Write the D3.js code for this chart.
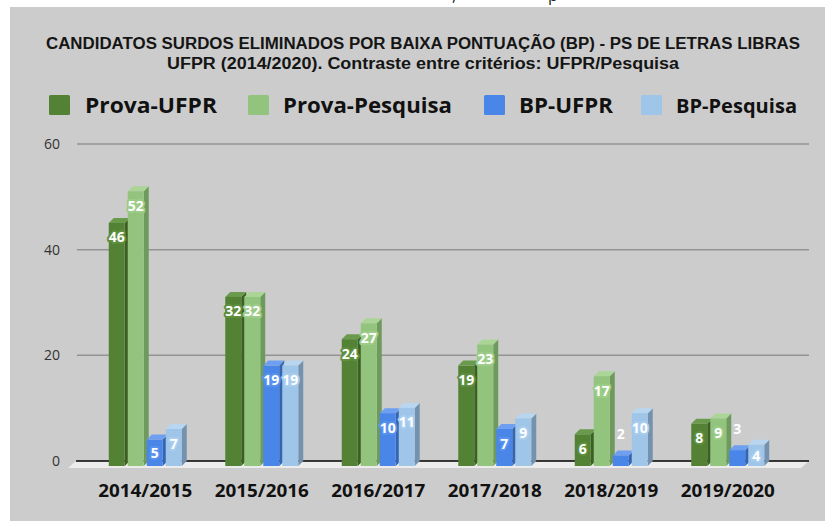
<!DOCTYPE html>
<html>
<head>
<meta charset="utf-8">
<script src="https://cdn.jsdelivr.net/npm/d3@7"></script>
<style>
  html, body { margin: 0; padding: 0; background: #ffffff; }
  svg { display: block; }
</style>
</head>
<body>
<svg id="chart" width="825" height="523"></svg>
<script>
// ---- data ----
const categories = ["2014/2015", "2015/2016", "2016/2017", "2017/2018", "2018/2019", "2019/2020"];
const seriesNames = ["Prova-UFPR", "Prova-Pesquisa", "BP-UFPR", "BP-Pesquisa"];
const provaUFPR     = [46, 32, 24, 19, 6, 8];
const provaPesquisa = [52, 32, 27, 23, 17, 9];
const bpUFPR        = [5, 19, 10, 7, 2, 3];
const bpPesquisa    = [7, 19, 11, 9, 10, 4];
const yTicks = [0, 20, 40, 60];
const titleLines = [
  "CANDIDATOS SURDOS ELIMINADOS POR BAIXA PONTUAÇÃO (BP) - PS DE LETRAS LIBRAS",
  "UFPR (2014/2020). Contraste entre critérios: UFPR/Pesquisa"
];

const seriesValues = [provaUFPR, provaPesquisa, bpUFPR, bpPesquisa];
const colors = {
  front: ["#548235", "#93c47d", "#4a86e8", "#9fc5e8"],
  side:  ["#3c5f25", "#6f9a5e", "#3464b2", "#7492ae"],
  top:   ["#6a9a4b", "#aad597", "#6e9ff0", "#b9d6f0"],
  halo:  ["#5e8f3e", "#9ccc87", "#5892ee", "#a9cdee"]
};

const svg = d3.select("#chart");
const W = 825, H = 523;

// background
svg.append("rect").attr("x", 0).attr("y", 0).attr("width", W).attr("height", H).attr("fill", "#ffffff");
// cut-off text from the page above (descenders only visible)
svg.append("text").attr("x", 452).attr("y", 1).attr("font-family", "Open Sans").attr("font-size", 16).attr("fill", "#222").text(",");
svg.append("text").attr("x", 548).attr("y", 1).attr("font-family", "Open Sans").attr("font-size", 16).attr("fill", "#222").text("p");
svg.append("rect").attr("x", 10).attr("y", 7).attr("width", W - 10).attr("height", 514).attr("fill", "#cccccc");

// title
const titleG = svg.append("g").attr("font-family", "Liberation Sans").attr("font-weight", 700).attr("fill", "#151515");
titleG.append("text").attr("x", 46).attr("y", 49).attr("font-size", 16)
  .attr("textLength", 754).attr("lengthAdjust", "spacingAndGlyphs").text(titleLines[0]);
titleG.append("text").attr("x", 167).attr("y", 69).attr("font-size", 16)
  .attr("textLength", 512).attr("lengthAdjust", "spacingAndGlyphs").text(titleLines[1]);

// legend
const legendLayout = [
  { sx: 49, tx: 85, tw: 132, fs: 22 },
  { sx: 248, tx: 283, tw: 169, fs: 22 },
  { sx: 484, tx: 519, tw: 94, fs: 22 },
  { sx: 641, tx: 676, tw: 121, fs: 19 }
];
const legend = svg.append("g");
seriesNames.forEach((name, i) => {
  const L = legendLayout[i];
  legend.append("rect").attr("x", L.sx).attr("y", 95).attr("width", 21).attr("height", 20)
    .attr("rx", 1.5).attr("fill", colors.front[i]);
  legend.append("text").attr("x", L.tx).attr("y", 113)
    .attr("font-family", "Open Sans").attr("font-weight", 700).attr("font-size", L.fs)
    .attr("fill", "#111").attr("textLength", L.tw).attr("lengthAdjust", "spacingAndGlyphs").text(name);
});

// scales
const depth = 5;
const x = d3.scaleBand().domain(categories).range([87, 786]);
const xInner = d3.scaleBand().domain(seriesNames).range([-36.5, 36.5]).paddingInner(3 / 19);
const y = d3.scaleLinear().domain([0, 60]).range([466, 149]);

// gridlines (back plane)
const grid = svg.append("g");
yTicks.filter(t => t > 0).forEach(t => {
  grid.append("line").attr("x1", 77).attr("x2", 809)
    .attr("y1", y(t) - depth).attr("y2", y(t) - depth)
    .attr("stroke", "#939393").attr("stroke-width", 1.5);
});

// y axis labels
const yAxis = d3.axisLeft(y).tickValues(yTicks).tickSize(0).tickPadding(0).tickFormat(d3.format("d"));
const yAxisG = svg.append("g").attr("transform", `translate(60,${-depth})`).call(yAxis);
yAxisG.select(".domain").remove();
yAxisG.selectAll("text").attr("font-family", "Open Sans").attr("font-size", 14).attr("fill", "#333");

// floor
const y0 = y(0);
svg.append("path")
  .attr("d", `M76,${y0 - depth} L809,${y0 - depth} L801,${y0 + 2} L68,${y0 + 2} Z`)
  .attr("fill", "#ececec");
svg.append("line").attr("x1", 76).attr("x2", 809).attr("y1", y0 - depth).attr("y2", y0 - depth)
  .attr("stroke", "#000").attr("stroke-width", 1.5);

// bars
const bars = svg.append("g");
const labels = svg.append("g");
categories.forEach((cat, ci) => {
  const cx = x(cat) + x.bandwidth() / 2;
  seriesNames.forEach((s, si) => {
    const v = seriesValues[si][ci];
    const bx = cx + xInner(s);
    const bw = xInner.bandwidth();
    const top = y(v);
    const g = bars.append("g");
    // side face
    g.append("path")
      .attr("d", `M${bx + bw},${y0} L${bx + bw},${top} L${bx + bw + depth},${top - depth} L${bx + bw + depth},${y0 - depth} Z`)
      .attr("fill", colors.side[si]);
    // top face
    g.append("path")
      .attr("d", `M${bx},${top} L${bx + bw},${top} L${bx + bw + depth},${top - depth} L${bx + depth},${top - depth} Z`)
      .attr("fill", colors.top[si]);
    // front face
    g.append("rect").attr("x", bx).attr("y", top).attr("width", bw).attr("height", y0 - top)
      .attr("fill", colors.front[si]);

    const h = y0 - top;
    const inside = h >= 20;
    const ly = inside ? top + Math.min(14, h / 2) : top - 22;
    const t = labels.append("text")
      .attr("x", bx + bw / 2).attr("y", ly)
      .attr("text-anchor", "middle").attr("dominant-baseline", "central")
      .attr("font-family", "Open Sans").attr("font-weight", 700).attr("font-size", 14)
      .attr("fill", "#ffffff").text(v);
    if (inside) {
      t.attr("stroke", colors.halo[si]).attr("stroke-width", 4).attr("stroke-linejoin", "round")
        .attr("paint-order", "stroke");
    }
  });
});

// category labels
const xAxis = d3.axisBottom(x).tickSize(0).tickPadding(0);
const xAxisG = svg.append("g").attr("transform", "translate(0,497)").call(xAxis);
xAxisG.select(".domain").remove();
xAxisG.selectAll("text")
  .attr("dy", 0).attr("y", 0)
  .attr("font-family", "Open Sans").attr("font-weight", 700).attr("font-size", 18).attr("fill", "#111")
  .attr("textLength", 94).attr("lengthAdjust", "spacingAndGlyphs");
</script>
</body>
</html>
